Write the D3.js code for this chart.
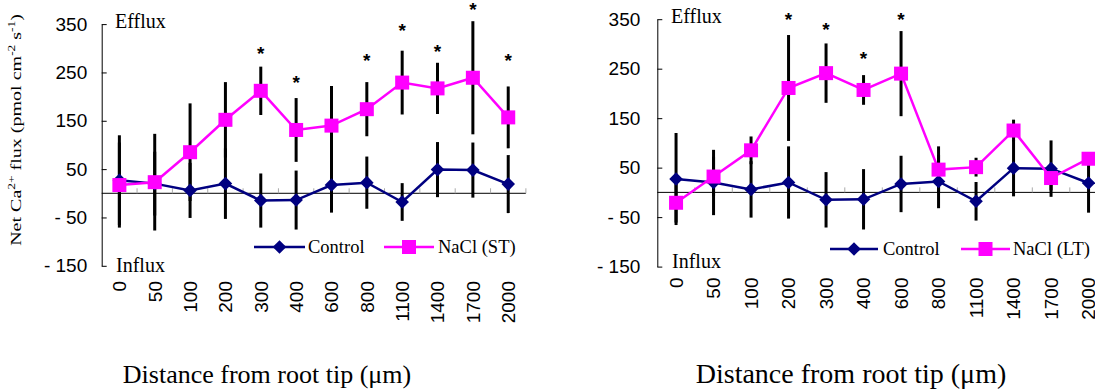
<!DOCTYPE html>
<html>
<head>
<meta charset="utf-8">
<script src="https://cdn.jsdelivr.net/npm/d3@7"></script>
<style>
body { margin: 0; background: #fff; }
svg { display: block; }
</style>
</head>
<body>
<div id="chart"></div>
<script>

// distances from the root tip (category axis)
var distances = ['0', '50', '100', '200', '300', '400', '600', '800', '1100', '1400', '1700', '2000'];

// control (same in both panels)
var control    = [27, 20, 6, 20, -15, -14, 17, 22, -18, 49, 48, 19];
var controlErr = [93, 66, 57, 73, 56, 61, 57, 54, 39, 57, 57, 60];

// NaCl short term
var naclST    = [17, 23, 85, 152, 212, 131, 140, 174, 229, 217, 239, 157];
var naclSTErr = [88, 100, 101, 78, 50, 66, 82, 56, 66, 53, 117, 64];

// NaCl long term
var naclLT    = [-21, 32, 85, 211, 241, 207, 240, 46, 51, 125, 29, 68];
var naclLTErr = [40, 40, 28, 107, 60, 30, 86, 47, 19, 22, 25, 10];

// height of the significance stars (null = none)
var starsST = [null, null, null, null, 298, 238, null, 284, 346, 303, 390, 284];
var starsLT = [null, null, null, 358, 339, 279, 358, null, null, null, null, null];

var yTicks = [-150, -50, 50, 150, 250, 350];

var serif = '"Liberation Serif", "Times New Roman", serif';
var sans = '"Liberation Sans", Arial, sans-serif';

var svgWidth = 1095;
var svgHeight = 391;

var svg = d3.select('#chart')
    .append('svg')
    .attr('width', svgWidth)
    .attr('height', svgHeight);

svg.append('rect').attr('width', svgWidth).attr('height', svgHeight).attr('fill', '#fff');

// panel layouts
var panels = [
    {
        x0: 101.7, bw: 35.35, yTop: 24.1, yBottom: 265.8, pad: 14.5,
        nacl: naclST, naclErr: naclSTErr, stars: starsST, name: 'NaCl (ST)',
        labelTop: 281, efflux: [115, 28], influx: [116, 272],
        legY: 247, legCtrl: [254, 305, 308], legNacl: [384, 434, 438],
        titleX: 267, titleSize: 26
    },
    {
        x0: 657.3, bw: 37.5, yTop: 19.2, yBottom: 266.6, pad: 17,
        nacl: naclLT, naclErr: naclLTErr, stars: starsLT, name: 'NaCl (LT)',
        labelTop: 277.5, efflux: [671, 23], influx: [672, 268],
        legY: 249, legCtrl: [830, 878, 883], legNacl: [961, 1010, 1013],
        titleX: 851, titleSize: 28
    }
];

function diamond(r) {
    return 'M0,' + (-r) + 'L' + r + ',0L0,' + r + 'L' + (-r) + ',0Z';
}

panels.forEach(function(p) {

    var xScale = d3.scaleBand()
        .domain(distances)
        .range([p.x0, p.x0 + distances.length * p.bw])
        .padding(0);

    var yScale = d3.scaleLinear()
        .domain([-150, 350])
        .range([p.yBottom, p.yTop]);

    var cx = function(i) { return xScale(distances[i]) + xScale.bandwidth() / 2; };

    var g = svg.append('g');

    // zero line with small category ticks
    g.append('line')
        .attr('x1', p.x0).attr('x2', xScale.range()[1])
        .attr('y1', yScale(0)).attr('y2', yScale(0))
        .attr('stroke', '#000').attr('stroke-width', 1);

    g.append('g').selectAll('line')
        .data(distances)
        .enter()
        .append('line')
        .attr('x1', d => xScale(d) + xScale.bandwidth())
        .attr('x2', d => xScale(d) + xScale.bandwidth())
        .attr('y1', yScale(0))
        .attr('y2', yScale(0) - 5)
        .attr('stroke', '#aaa')
        .attr('stroke-width', 1);

    // y axis, ticks pointing inward
    var leftAxis = d3.axisLeft(yScale)
        .tickValues(yTicks)
        .tickSizeInner(-5)
        .tickSizeOuter(0)
        .tickPadding(p.pad)
        .tickFormat(d => d < 0 ? '- ' + Math.abs(d) : d);

    var yAxisG = g.append('g')
        .attr('transform', `translate(${p.x0},0)`)
        .call(leftAxis);
    yAxisG.selectAll('text')
        .attr('font-family', sans)
        .attr('font-size', 19)
        .attr('fill', '#000');
    yAxisG.selectAll('path, line').attr('stroke', '#000');

    // category labels
    var bottomAxis = d3.axisBottom(xScale).tickSize(0);
    var xAxisG = g.append('g')
        .attr('transform', `translate(0,${p.labelTop})`)
        .call(bottomAxis);
    xAxisG.select('.domain').remove();
    xAxisG.selectAll('text')
        .attr('transform', 'rotate(-90)')
        .attr('text-anchor', 'end')
        .attr('x', 0)
        .attr('y', 0)
        .attr('dy', '0.36em')
        .attr('font-family', sans)
        .attr('font-size', 19)
        .attr('fill', '#000');

    // error bars
    var bars = [];
    control.forEach((v, i) => bars.push([i, v - controlErr[i], v + controlErr[i]]));
    p.nacl.forEach((v, i) => bars.push([i, v - p.naclErr[i], v + p.naclErr[i]]));

    g.append('g').selectAll('line')
        .data(bars)
        .enter()
        .append('line')
        .attr('x1', d => cx(d[0]))
        .attr('x2', d => cx(d[0]))
        .attr('y1', d => yScale(d[1]))
        .attr('y2', d => yScale(d[2]))
        .attr('stroke', '#000')
        .attr('stroke-width', 3);

    var line = d3.line()
        .x((d, i) => cx(i))
        .y(d => yScale(d));

    // control series
    g.append('path')
        .attr('d', line(control))
        .attr('fill', 'none')
        .attr('stroke', '#000080')
        .attr('stroke-width', 2.5);

    g.append('g').selectAll('path')
        .data(control)
        .enter()
        .append('path')
        .attr('d', diamond(6.8))
        .attr('transform', (d, i) => `translate(${cx(i)},${yScale(d)})`)
        .attr('fill', '#000080');

    // NaCl series
    g.append('path')
        .attr('d', line(p.nacl))
        .attr('fill', 'none')
        .attr('stroke', '#ff00ff')
        .attr('stroke-width', 2.5);

    g.append('g').selectAll('rect')
        .data(p.nacl)
        .enter()
        .append('rect')
        .attr('x', (d, i) => cx(i) - 7)
        .attr('y', d => yScale(d) - 7)
        .attr('width', 14)
        .attr('height', 14)
        .attr('fill', '#ff00ff');

    // significance stars
    g.append('g').selectAll('text')
        .data(p.stars.map((s, i) => [i, s]).filter(d => d[1] !== null))
        .enter()
        .append('text')
        .attr('x', d => cx(d[0]))
        .attr('y', d => yScale(d[1]) + 11)
        .attr('text-anchor', 'middle')
        .attr('font-family', sans)
        .attr('font-weight', 'bold')
        .attr('font-size', 19)
        .text('*');

    // Efflux / Influx
    g.append('text')
        .attr('x', p.efflux[0]).attr('y', p.efflux[1])
        .attr('font-family', serif).attr('font-size', 20)
        .text('Efflux');
    g.append('text')
        .attr('x', p.influx[0]).attr('y', p.influx[1])
        .attr('font-family', serif).attr('font-size', 20)
        .text('Influx');

    // legend
    var leg = g.append('g').attr('font-family', serif).attr('font-size', 18.5);
    leg.append('line')
        .attr('x1', p.legCtrl[0]).attr('x2', p.legCtrl[1])
        .attr('y1', p.legY).attr('y2', p.legY)
        .attr('stroke', '#000080').attr('stroke-width', 2.5);
    leg.append('path')
        .attr('d', diamond(6.8))
        .attr('transform', `translate(${(p.legCtrl[0] + p.legCtrl[1]) / 2},${p.legY})`)
        .attr('fill', '#000080');
    leg.append('text')
        .attr('x', p.legCtrl[2]).attr('y', p.legY + 6)
        .text('Control');

    leg.append('line')
        .attr('x1', p.legNacl[0]).attr('x2', p.legNacl[1])
        .attr('y1', p.legY).attr('y2', p.legY)
        .attr('stroke', '#ff00ff').attr('stroke-width', 2.5);
    leg.append('rect')
        .attr('x', (p.legNacl[0] + p.legNacl[1]) / 2 - 7)
        .attr('y', p.legY - 7)
        .attr('width', 14).attr('height', 14)
        .attr('fill', '#ff00ff');
    leg.append('text')
        .attr('x', p.legNacl[2]).attr('y', p.legY + 6)
        .text(p.name);

    // x axis title
    g.append('text')
        .attr('x', p.titleX).attr('y', 383)
        .attr('text-anchor', 'middle')
        .attr('font-family', serif)
        .attr('font-size', p.titleSize)
        .text('Distance from root tip (\u03bcm)');
});

// y axis title (left panel only), stretched along its length
var yLabel = svg.append('text')
    .attr('font-family', serif)
    .attr('font-size', 15)
    .attr('text-anchor', 'middle');
yLabel.append('tspan').text('Net Ca');
yLabel.append('tspan').attr('dy', -6).attr('font-size', 10).text('2+');
yLabel.append('tspan').attr('dy', 6).text(' flux (pmol cm');
yLabel.append('tspan').attr('dy', -6).attr('font-size', 10).text('-2');
yLabel.append('tspan').attr('dy', 6).text(' s');
yLabel.append('tspan').attr('dy', -6).attr('font-size', 10).text('-1');
yLabel.append('tspan').attr('dy', 6).text(')');

var labelLen = yLabel.node().getComputedTextLength();
var stretch = 232 / labelLen;
yLabel.attr('transform', `translate(21,130) rotate(-90) scale(${stretch},1)`);

</script>
</body>
</html>
